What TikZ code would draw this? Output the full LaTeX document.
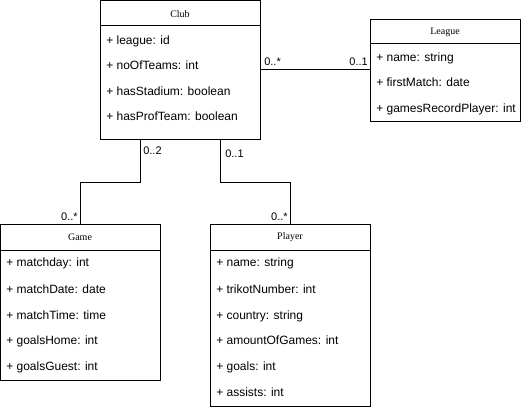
\documentclass[tikz,border=0pt]{standalone}
\usepackage{fontspec}
\setmainfont{Liberation Sans}
\newfontfamily\hdrfont{Liberation Serif}
\usetikzlibrary{calc}
\begin{document}
\begin{tikzpicture}[x=0.75pt,y=-0.75pt,
 cls/.style={draw, line width=0.75pt, inner sep=0, outer sep=0, anchor=north west},
 hdr/.style={font=\hdrfont\fontsize{7.5pt}{9pt}\selectfont, anchor=center, inner sep=0},
 attr/.style={font=\fontsize{9pt}{11pt}\selectfont, anchor=west, inner sep=0, text height=0.7em, text depth=0.2em},
 mult/.style={font=\fontsize{8.25pt}{10pt}\selectfont, inner sep=0},
 conn/.style={line width=0.75pt}]
\useasboundingbox (0,0) rectangle (521,410);
% classes
\node[cls, minimum width=120pt, minimum height=103.5pt] (club) at (100,1) {};
\node[cls, minimum width=112.5pt, minimum height=75.75pt] (league) at (370,20) {};
\node[cls, minimum width=120pt, minimum height=117pt] (game) at (0.5,224) {};
\node[cls, minimum width=120pt, minimum height=136.5pt] (player) at (210,224) {};
% dividers
\draw[conn] ($(club.north west)+(0,25)$) -- ($(club.north east)+(0,25)$);
\draw[conn] ($(league.north west)+(0,24)$) -- ($(league.north east)+(0,24)$);
\draw[conn] ($(game.north west)+(0,26)$) -- ($(game.north east)+(0,26)$);
\draw[conn] ($(player.north west)+(0,26)$) -- ($(player.north east)+(0,26)$);
% headers
\node[hdr] (clubh) at (180,14) {Club};
\node[hdr] (leagueh) at (445,32) {League};
\node[hdr] (gameh) at (80,237) {Game};
\node[hdr] (playerh) at (290,237) {Player};
% attributes
\node[attr] (c1) at (106,41) {+ league: id};
\node[attr] (c2) at (106,66) {+ noOfTeams: int};
\node[attr] (c3) at (106,92) {+ hasStadium: boolean};
\node[attr] (c4) at (106,117) {+ hasProfTeam: boolean};
\node[attr] (l1) at (376,58) {+ name: string};
\node[attr] (l2) at (376,83.5) {+ firstMatch: date};
\node[attr] (l3) at (376,109) {+ gamesRecordPlayer: int};
\node[attr] (g1) at (6,263.5) {+ matchday: int};
\node[attr] (g2) at (6,290) {+ matchDate: date};
\node[attr] (g3) at (6,316) {+ matchTime: time};
\node[attr] (g4) at (6,341.5) {+ goalsHome: int};
\node[attr] (g5) at (6,367.5) {+ goalsGuest: int};
\node[attr] (p1) at (216,263.5) {+ name: string};
\node[attr] (p2) at (216,290) {+ trikotNumber: int};
\node[attr] (p3) at (216,316) {+ country: string};
\node[attr] (p4) at (216,341.5) {+ amountOfGames: int};
\node[attr] (p5) at (216,367.5) {+ goals: int};
\node[attr] (p6) at (216,393) {+ assists: int};
% connectors
\draw[conn] (club.east) -- (club.east -| league.west);
\draw[conn] ($(club.south west)+(40,0)$) -- ++(0,43) -| (game.north);
\draw[conn] ($(club.south west)+(120,0)$) -- ++(0,43) -| (player.north);
% multiplicities
\node[mult, anchor=base west] (m1) at (264,65) {0..*};
\node[mult, anchor=base east] (m2) at (368,65) {0..1};
\node[mult, anchor=base west] (m3) at (143,154) {0..2};
\node[mult, anchor=base west] (m4) at (225,157) {0..1};
\node[mult, anchor=base east] (m5) at (78,220) {0..*};
\node[mult, anchor=base east] (m6) at (288,220) {0..*};
\end{tikzpicture}
\end{document}
